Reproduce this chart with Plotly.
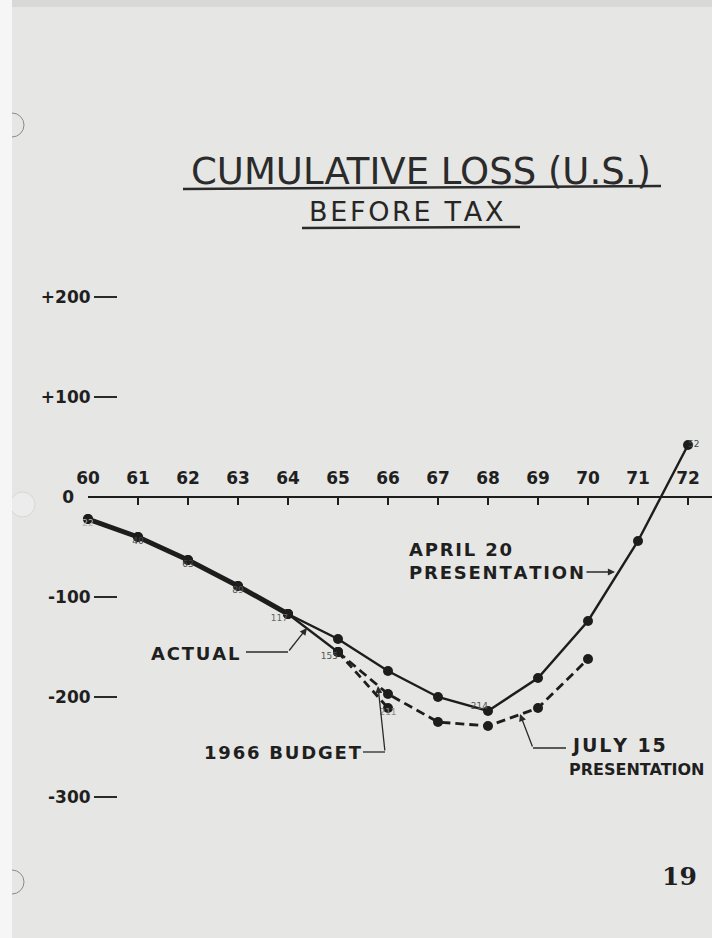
import plotly.graph_objects as go

# ---------------- data ----------------
years = [60, 61, 62, 63, 64, 65, 66, 67, 68, 69, 70, 71, 72]
year_labels = ["60", "61", "62", "63", "64", "65", "66", "67", "68", "69", "70", "71", "72"]

actual_years = [60, 61, 62, 63, 64, 65]
actual_vals = [-22, -40, -63, -89, -117, -155]

april_years = [60, 61, 62, 63, 64, 65, 66, 67, 68, 69, 70, 71, 72]
april_vals = [-22, -40, -63, -89, -117, -142, -174, -200, -214, -181, -124, -44, 52]

july_years = [65, 66, 67, 68, 69, 70]
july_vals = [-155, -197, -225, -229, -211, -162]

budget_years = [65, 66]
budget_vals = [-155, -211]

value_label_years = [60, 61, 62, 63, 64, 65, 66, 68, 72]
value_label_vals = [-22, -40, -63, -89, -117, -155, -211, -214, 52]
value_label_pos = ["bottom center", "bottom center", "bottom center", "bottom center",
                   "bottom left", "bottom left", "bottom center", "top left", "middle right"]
value_label_col = ["#b5b5b5", "#444", "#444", "#555", "#666", "#555", "#888", "#555", "#444"]

y_tickvals = [200, 100, -100, -200, -300]
y_ticktext = ["+200", "+100", "-100", "-200", "-300"]

# ---------------- style ----------------
W, H = 712, 938
INK = "#1d1d1d"
BG = "#e6e6e4"
FONT = "DejaVu Sans"
HS = "\u200a"  # hair space used as letter spacing (hand lettering look)


def spaced(s):
    return HS.join(s)


def P(xp, yp):
    """pixel -> paper fraction"""
    return xp / W, 1 - yp / H


fig = go.Figure()

# April 20 presentation (solid)
fig.add_trace(go.Scatter(x=april_years, y=april_vals, mode="lines+markers",
                         line=dict(color=INK, width=2.4),
                         marker=dict(color=INK, size=10),
                         cliponaxis=False, hoverinfo="skip"))
# Actual (thick, 60-64), then the thinner 64-65 leg
fig.add_trace(go.Scatter(x=actual_years[:5], y=actual_vals[:5], mode="lines+markers",
                         line=dict(color=INK, width=5),
                         marker=dict(color=INK, size=10),
                         cliponaxis=False, hoverinfo="skip"))
fig.add_trace(go.Scatter(x=actual_years[4:], y=actual_vals[4:], mode="lines+markers",
                         line=dict(color=INK, width=2.2),
                         marker=dict(color=INK, size=10),
                         cliponaxis=False, hoverinfo="skip"))
# 1966 budget (dashed)
fig.add_trace(go.Scatter(x=budget_years, y=budget_vals, mode="lines+markers",
                         line=dict(color=INK, width=2.8, dash="8px,5px"),
                         marker=dict(color=INK, size=10),
                         cliponaxis=False, hoverinfo="skip"))
# July 15 presentation (dashed)
fig.add_trace(go.Scatter(x=july_years, y=july_vals, mode="lines+markers",
                         line=dict(color=INK, width=2.8, dash="9px,5px"),
                         marker=dict(color=INK, size=10),
                         cliponaxis=False, hoverinfo="skip"))
# small hand-written values
fig.add_trace(go.Scatter(x=value_label_years, y=value_label_vals, mode="text",
                         text=[str(abs(v)) for v in value_label_vals],
                         textposition=value_label_pos,
                         textfont=dict(family="DejaVu Sans", size=9, color=value_label_col),
                         cliponaxis=False, hoverinfo="skip"))
# carrier for the "0" axis
fig.add_trace(go.Scatter(x=[60], y=[0], yaxis="y2", mode="markers",
                         marker=dict(opacity=0), hoverinfo="skip"))

# ---------------- decorations ----------------
shapes = []
# punch holes / page edges
for cy in (125, 882):
    x0, y0 = P(0, cy - 12)
    x1, y1 = P(24, cy + 12)
    shapes.append(dict(type="circle", xref="paper", yref="paper", x0=x0, x1=x1, y0=y0, y1=y1,
                       line=dict(color="#8a8a8a", width=1), fillcolor="rgba(0,0,0,0)"))
x0, y0 = P(10, 492)
x1, y1 = P(35, 517)
shapes.append(dict(type="circle", xref="paper", yref="paper", x0=x0, x1=x1, y0=y0, y1=y1,
                   line=dict(color="#d6d6d6", width=1), fillcolor="#ececec"))
shapes.append(dict(type="rect", xref="paper", yref="paper", x0=0, x1=12 / W, y0=0, y1=1,
                   line=dict(width=0), fillcolor="#f6f6f6"))
shapes.append(dict(type="rect", xref="paper", yref="paper", x0=12 / W, x1=1, y0=1 - 7 / H, y1=1,
                   line=dict(width=0), fillcolor="#d8d8d6"))


def seg(a, b, w=1.3):
    xa, ya = P(*a)
    xb, yb = P(*b)
    shapes.append(dict(type="line", xref="paper", yref="paper", x0=xa, y0=ya, x1=xb, y1=yb,
                       line=dict(color="#2a2a2a", width=w)))


# title underlines
seg((183, 189), (661, 186), 2.6)
seg((302, 228), (520, 227), 2.6)
# leaders (horizontal parts)
seg((246, 652), (288, 652))
seg((363, 752), (385, 752))
seg((533, 748), (566, 748))

annotations = []


def label(text, xp, yp, size, xanchor="left", weight="bold", family=FONT, color="#1f1f1f"):
    x, y = P(xp, yp)
    annotations.append(dict(text=text, xref="paper", yref="paper", x=x, y=y,
                            xanchor=xanchor, yanchor="middle", showarrow=False,
                            font=dict(family=family, size=size, color=color, weight=weight)))


def arrow(tail, tip):
    x, y = P(*tip)
    annotations.append(dict(text="", xref="paper", yref="paper", x=x, y=y,
                            ax=tail[0] - tip[0], ay=tail[1] - tip[1], axref="pixel", ayref="pixel",
                            showarrow=True, arrowhead=2, arrowsize=1.1, arrowwidth=1.3,
                            arrowcolor="#2a2a2a"))


label("CUMULATIVE LOSS (U.S.)", 421, 172, 37, xanchor="center", weight="normal", color="#2b2b2b")
label(spaced("BEFORE TAX"), 406, 211, 27, xanchor="center", weight="normal", color="#262626")

label(spaced("APRIL 20"), 407, 549, 18)
label(spaced("PRESENTATION"), 407, 572, 18)
arrow((585, 572), (615, 572))

label(spaced("ACTUAL"), 149, 653, 18)
arrow((288, 652), (307, 628))

label(spaced("1966 BUDGET"), 202, 752, 18)
arrow((385, 752), (378, 686))

label(spaced("JULY 15"), 569, 745, 19)
label("PRESENTATION", 567, 769, 16)
arrow((533, 748), (520, 714))

label("19", 679, 876, 25, xanchor="center", family="DejaVu Serif")

axis_font = dict(family=FONT, size=17, color="#1f1f1f", weight="bold")

fig.update_layout(
    width=W, height=H, autosize=False,
    margin=dict(l=0, r=0, t=0, b=0, pad=0, autoexpand=False),
    paper_bgcolor=BG, plot_bgcolor=BG,
    showlegend=False,
    shapes=shapes, annotations=annotations,
    xaxis=dict(domain=[88 / W, 1], range=[60, 60 + (W - 88) / 50.0],
               side="top", anchor="free", position=441 / H,
               tickvals=years, ticktext=year_labels,
               ticks="inside", ticklen=7, tickwidth=1.6, tickcolor=INK,
               showline=True, linewidth=2, linecolor=INK,
               showgrid=False, zeroline=False, ticklabelstandoff=5,
               tickfont=axis_font, fixedrange=True, automargin=False),
    yaxis=dict(domain=[0, 1], range=[-441, 497], anchor="free", position=117 / W,
               tickvals=y_tickvals, ticktext=y_ticktext,
               ticks="outside", ticklen=23, tickwidth=1.8, tickcolor="#2a2a2a",
               showline=False, showgrid=False, zeroline=False,
               tickfont=axis_font, fixedrange=True, automargin=False),
    yaxis2=dict(overlaying="y", range=[-441, 497], anchor="free", position=74 / W,
                tickvals=[0], ticktext=["0"], ticks="",
                showline=False, showgrid=False, zeroline=False,
                tickfont=axis_font, fixedrange=True, automargin=False),
)

fig.write_html(
    "out.html",
    config={"displayModeBar": False},
    post_script="document.body.style.margin='0';document.body.style.overflow='hidden';",
)
